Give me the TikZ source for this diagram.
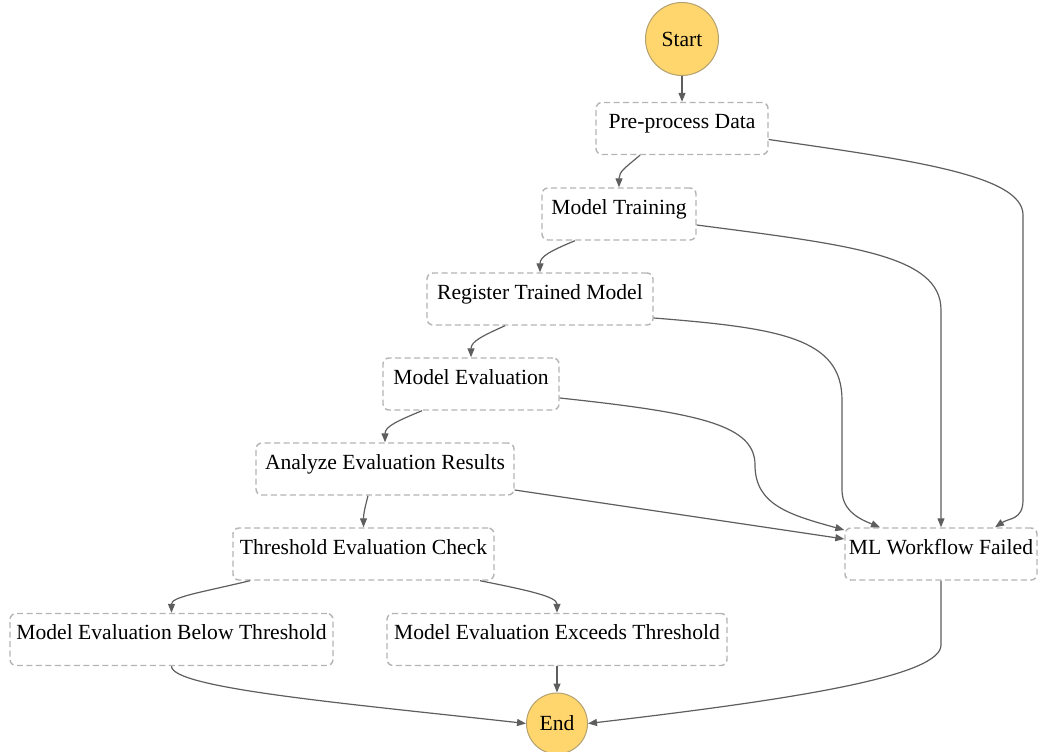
\documentclass[tikz,border=0pt]{standalone}
\usepackage{fontspec}
\setmainfont{LiberationSerif}[Extension=.ttf, UprightFont=*-Regular, BoldFont=*-Bold, ItalicFont=*-Italic, BoldItalicFont=*-BoldItalic]
\usetikzlibrary{positioning, arrows.meta}
\definecolor{termgold}{HTML}{FFD66E}
\definecolor{termrim}{HTML}{B3A06E}
\definecolor{boxgray}{HTML}{B4B4B4}
\definecolor{edgegray}{HTML}{5E5E5E}

\begin{document}
\begin{tikzpicture}
    [
        x=1pt, y=1pt, node distance=85.5pt and 80pt, on grid,
        step_node/.style={rectangle, rounded corners=6pt, draw=boxgray, dash pattern=on 6pt off 3.5pt, line width=1.4pt, fill=white, inner xsep=0pt, inner ysep=0pt, text height=26pt, text depth=26pt, font=\fontsize{21.6}{26}\selectfont},
        term_node/.style={circle, draw=termrim, fill=termgold, line width=1pt, inner sep=0pt, font=\fontsize{21.6}{26}\selectfont},
        flow/.style={-{Triangle[length=9pt, width=7pt]}, line width=1.2pt, color=edgegray},
    ]
        \useasboundingbox (0,0) rectangle (1039,-752) ;
        \node[term_node, minimum size=73pt] (start) at (682,-39) {Start} ;
        \node[step_node, minimum width=172pt] (pre) [below = 89.5pt of start] {Pre-process Data} ;
        \node[step_node, minimum width=154pt] (train) [below left = 85.5pt and 63pt of pre] {Model Training} ;
        \node[step_node, minimum width=226pt] (reg) [below left = 85pt and 79pt of train] {Register Trained Model} ;
        \node[step_node, minimum width=176pt] (eval) [below left = 85pt and 69pt of reg] {Model Evaluation} ;
        \node[step_node, minimum width=258pt] (analyze) [below left = 85pt and 86pt of eval] {Analyze Evaluation Results} ;
        \node[step_node, minimum width=261pt] (thresh) [below left = 85pt and 21.5pt of analyze] {Threshold Evaluation Check} ;
        \node[step_node, minimum width=323pt] (below) [below left = 85.5pt and 192pt of thresh] {Model Evaluation Below Threshold} ;
        \node[step_node, minimum width=340pt] (exceeds) [below right = 85.5pt and 193.5pt of thresh] {Model Evaluation Exceeds Threshold} ;
        \node[step_node, minimum width=192pt] (failed) [right = 577.5pt of thresh] {ML Workflow Failed} ;
        \node[term_node, minimum size=61pt] (end) [below = 84pt of exceeds] {End} ;
        % main chain
        \draw[flow] (start) -- (pre) ;
        \draw[flow] ([xshift=-42pt]pre.south) .. controls +(-14,-12) and +(0,16) .. (train.north) ;
        \draw[flow] ([xshift=-44pt]train.south) .. controls +(-24,-10) and +(0,16) .. (reg.north) ;
        \draw[flow] ([xshift=-35pt]reg.south) .. controls +(-22,-10) and +(0,16) .. (eval.north) ;
        \draw[flow] ([xshift=-49pt]eval.south) .. controls +(-24,-10) and +(0,16) .. (analyze.north) ;
        \draw[flow] ([xshift=-17pt]analyze.south) .. controls +(-3,-12) and +(0,14) .. (thresh.north) ;
        \draw[flow] ([xshift=-113.5pt]thresh.south) .. controls +(-50,-12) and +(0,16) .. (below.north) ;
        \draw[flow] ([xshift=116.5pt]thresh.south) .. controls +(50,-10) and +(0,16) .. (exceeds.north) ;
        \draw[flow] (below.south) .. controls +(0,-22) and +(-180,20) .. (end.west) ;
        \draw[flow] (exceeds) -- (end) ;
        \draw[flow] (failed.south) -- (941,-645) .. controls (941,-675) and (807,-698) .. (end.east) ;
        % failure branches
        \draw[flow] ([yshift=-11pt]pre.east) .. controls (910,-160) and (1023,-175) .. (1023,-215) -- (1023,-500) .. controls (1023,-520) and (1009,-518) .. ([xshift=54pt]failed.north) ;
        \draw[flow] ([yshift=-11pt]train.east) .. controls (850,-245) and (941,-255) .. (941,-310) -- (failed.north) ;
        \draw[flow] ([yshift=-19pt]reg.east) .. controls (780,-328) and (842,-338) .. (842,-400) -- (842,-490) .. controls (842,-512) and (862,-520) .. ([xshift=-61pt]failed.north) ;
        \draw[flow] ([yshift=-14pt]eval.east) .. controls (700,-413) and (755,-425) .. (755,-465) .. controls (755,-505) and (790,-515) .. ([yshift=24pt]failed.west) ;
        \draw[flow] ([yshift=-21pt]analyze.east) -- ([yshift=15pt]failed.west) ;
    \end{tikzpicture}
\end{document}
